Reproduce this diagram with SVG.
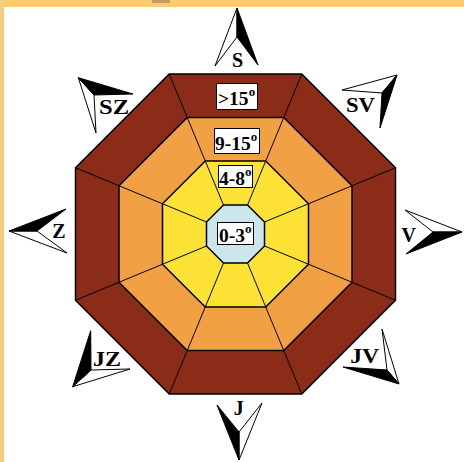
<svg xmlns="http://www.w3.org/2000/svg" width="464" height="462" viewBox="0 0 464 462">
<style>
.lbl{font-family:"Liberation Serif","Times New Roman",serif;font-weight:bold;font-size:20px;fill:#000;text-anchor:middle}
.deg{font-family:"Liberation Serif","Times New Roman",serif;font-weight:bold;font-size:19.5px;fill:#000}
.sup{font-size:13px}
.box{fill:#fff;stroke:#000;stroke-width:1}
.blk{fill:#000;stroke:#000;stroke-width:1;stroke-linejoin:miter}
.wht{fill:#fff;stroke:#000;stroke-width:1;stroke-linejoin:miter}
.ring{stroke:#000;stroke-width:1.5;stroke-linejoin:miter}
.rad{stroke:#000;stroke-width:1;fill:none}
</style>
<rect x="0" y="0" width="464" height="462" fill="#fff"/>
<rect x="0" y="0" width="464" height="7" fill="#FCCB70"/>
<rect x="0" y="0" width="4" height="462" fill="#F8CC80"/>
<rect x="152" y="0" width="18" height="3" fill="#C99A5E"/>

<g id="ring-outer">
<polygon class="ring" fill="#8B2C19" stroke-width="2" points="169.23,74 301.77,74 395.5,167.73 395.5,300.27 301.77,394 169.23,394 75.5,300.27 75.5,167.73"/>
</g>
<g id="ring-9-15">
<polygon class="ring" fill="#F2A044" points="187.24,117.5 283.76,117.5 352,185.74 352,282.26 283.76,350.5 187.24,350.5 119,282.26 119,185.74"/>
</g>
<g id="ring-4-8">
<polygon class="ring" fill="#FBE234" points="205.26,161 265.74,161 308.5,203.76 308.5,264.24 265.74,307 205.26,307 162.5,264.24 162.5,203.76"/>
</g>
<g id="connectors">
<line class="rad" x1="223.49" y1="205" x2="169.23" y2="74"/>
<line class="rad" x1="247.51" y1="205" x2="301.77" y2="74"/>
<line class="rad" x1="264.5" y1="221.99" x2="395.5" y2="167.73"/>
<line class="rad" x1="264.5" y1="246.01" x2="395.5" y2="300.27"/>
<line class="rad" x1="247.51" y1="263" x2="301.77" y2="394"/>
<line class="rad" x1="223.49" y1="263" x2="169.23" y2="394"/>
<line class="rad" x1="206.5" y1="246.01" x2="75.5" y2="300.27"/>
<line class="rad" x1="206.5" y1="221.99" x2="75.5" y2="167.73"/>
</g>
<g id="ring-0-3">
<polygon class="ring" fill="#CCE6EE" stroke-width="2" points="223.49,205 247.51,205 264.5,221.99 264.5,246.01 247.51,263 223.49,263 206.5,246.01 206.5,221.99"/>
</g>

<g id="label-gt15">
<rect class="box" x="216.5" y="83.5" width="41" height="26"/>
<text class="deg" x="218" y="104.5">&gt;15<tspan class="sup" dy="-9">o</tspan></text>
</g>
<g id="label-9-15">
<rect class="box" x="214.5" y="128.5" width="45" height="25"/>
<text class="deg" x="215" y="149.5">9-15<tspan class="sup" dy="-9">o</tspan></text>
</g>
<g id="label-4-8">
<rect class="box" x="218.5" y="165.5" width="34" height="22"/>
<text class="deg" x="219" y="185">4-8<tspan class="sup" dy="-9">o</tspan></text>
</g>
<g id="label-0-3">
<rect class="box" x="217.5" y="222.5" width="36" height="22"/>
<text class="deg" x="219" y="241.5">0-3<tspan class="sup" dy="-9">o</tspan></text>
</g>

<g id="dir-S">
<polygon class="wht" points="237,8 237,37 215,66"/>
<polygon class="blk" points="237,8 258,65 237,37"/>
<text class="lbl" x="237.5" y="66.5">S</text>
</g>
<g id="dir-SV">
<polygon class="wht" points="397,75 382,93 342,90"/>
<polygon class="blk" points="397,75 380,128 382,93"/>
<text class="lbl" x="360.5" y="112" textLength="29" lengthAdjust="spacingAndGlyphs">SV</text>
</g>
<g id="dir-V">
<polygon class="wht" points="462,232 433,232 405,210"/>
<polygon class="blk" points="462,232 406,254 433,232"/>
<text class="lbl" x="408.7" y="241.5">V</text>
</g>
<g id="dir-JV">
<polygon class="wht" points="399,384 387,370 382,329"/>
<polygon class="blk" points="399,384 343,367 387,370"/>
<text class="lbl" x="364.7" y="362.7" textLength="29" lengthAdjust="spacingAndGlyphs">JV</text>
</g>
<g id="dir-J">
<polygon class="wht" points="239,460 239,432 262,403"/>
<polygon class="blk" points="239,460 217,405 239,432"/>
<text class="lbl" x="238.7" y="415">J</text>
</g>
<g id="dir-JZ">
<polygon class="wht" points="72.7,386.7 91,370 130,369"/>
<polygon class="blk" points="72.7,386.7 90.7,330.7 91,370"/>
<text class="lbl" x="107" y="365.5" textLength="28" lengthAdjust="spacingAndGlyphs">JZ</text>
</g>
<g id="dir-Z">
<polygon class="wht" points="9,231 37,231 67,253"/>
<polygon class="blk" points="9,231 66,209 37,231"/>
<text class="lbl" x="59" y="237.5">Z</text>
</g>
<g id="dir-SZ">
<polygon class="wht" points="78.3,77.7 94,95 96,133"/>
<polygon class="blk" points="78.3,77.7 133,94 94,95"/>
<text class="lbl" x="114" y="113.5" textLength="30" lengthAdjust="spacingAndGlyphs">SZ</text>
</g>
</svg>
